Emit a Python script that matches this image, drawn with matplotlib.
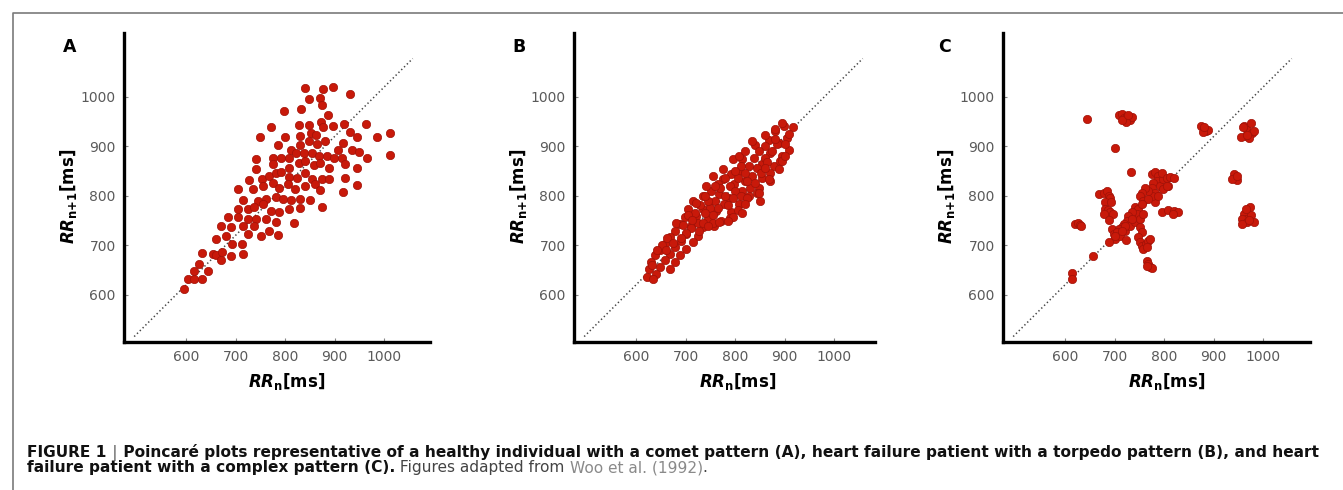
import matplotlib
matplotlib.use('Agg')
import matplotlib.pyplot as plt
from matplotlib.lines import Line2D

# ---- data (ms) ----
a_x = [841, 876, 897, 931, 848, 871, 875, 833, 798, 886, 771, 829, 848, 873, 897, 919, 964,
       750, 799, 831, 853, 863, 876, 931, 945, 986, 1012, 785, 811, 831, 848, 865, 881, 907,
       917, 935, 950, 966, 1012, 741, 775, 791, 808, 823, 838, 855, 868, 885, 898, 915, 921,
       945, 741, 775, 808, 828, 841, 858, 871, 888, 728, 753, 768, 781, 791, 808, 825, 841,
       855, 875, 888, 921, 945, 705, 735, 755, 775, 788, 805, 821, 841, 861, 871, 918, 715,
       745, 761, 781, 795, 811, 831, 851, 875, 705, 725, 738, 755, 771, 788, 808, 831, 685,
       705, 725, 741, 761, 781, 818, 671, 691, 715, 738, 768, 785, 661, 681, 725, 751,
       595, 603, 616, 633, 616, 626, 645, 633, 655, 660, 671, 673, 691, 715, 693, 713]
a_y = [1018, 1015, 1019, 1006, 995, 997, 983, 975, 970, 963, 938, 943, 943, 949, 940, 945, 945,
       918, 918, 921, 926, 923, 939, 928, 918, 918, 926, 902, 892, 903, 910, 905, 910, 892,
       906, 893, 888, 876, 881, 873, 876, 876, 876, 886, 886, 886, 880, 880, 876, 876, 863,
       856, 854, 863, 856, 866, 870, 861, 866, 856, 831, 833, 840, 846, 848, 838, 836, 846,
       833, 833, 833, 836, 821, 813, 813, 819, 826, 816, 823, 813, 819, 823, 811, 807, 791,
       789, 793, 798, 793, 791, 793, 791, 776, 773, 773, 776, 783, 769, 767, 773, 774, 757,
       756, 753, 753, 753, 747, 745, 738, 736, 738, 739, 729, 720, 712, 719, 722, 719,
       612, 632, 632, 631, 647, 662, 647, 684, 682, 679, 669, 686, 678, 682, 702, 702]

b_x = [918, 898, 881, 905, 868, 888, 908, 861, 841, 848, 871, 895, 838, 815, 828, 855, 878,
       808, 791, 835, 855, 821, 775, 765, 798, 848, 815, 751, 735, 768, 788, 828, 715, 748,
       778, 808, 735, 705, 761, 791, 721, 698, 745, 771, 688, 711, 735, 758, 678, 701, 725,
       668, 691, 715, 658, 678, 701, 648, 668, 688, 638, 658, 678, 631, 648, 668, 625, 641,
       621, 635,
       780, 790, 800, 760, 770, 805, 820, 830, 845, 860, 750, 740, 725, 710, 700, 690, 720,
       730, 745, 755, 765, 785, 795, 812, 825, 840, 852, 865, 875, 885, 890, 870, 880, 860,
       812, 800, 780, 760, 740, 722, 705, 680, 662, 652, 642, 632, 660, 675, 695, 712, 735,
       755, 790, 805, 825, 845, 870, 895, 900, 910,
       741, 755, 775, 795, 808, 821, 835, 861, 881, 895, 768, 795, 821, 848, 868, 888, 901,
       728, 745, 785, 815, 850]
b_y = [939, 940, 930, 916, 913, 906, 893, 900, 903, 890, 886, 880, 876, 873, 860, 863, 860,
       850, 843, 840, 836, 829, 833, 823, 823, 816, 809, 809, 799, 803, 796, 799, 789, 786,
       783, 783, 773, 773, 769, 766, 759, 756, 753, 749, 743, 739, 736, 739, 729, 722, 719,
       716, 709, 706, 702, 696, 692, 689, 682, 679, 679, 669, 666, 666, 656, 652, 652, 642,
       635, 632,
       800, 820, 810, 790, 815, 835, 845, 815, 855, 875, 775, 765, 745, 735, 725, 715, 765,
       780, 790, 760, 775, 780, 795, 800, 830, 825, 845, 868, 890, 905, 870, 845, 915, 855,
       860, 850, 835, 820, 800, 785, 760, 745, 715, 700, 690, 660, 690, 705, 740, 750, 745,
       745, 755, 770, 795, 805, 830, 870, 905, 925,
       819, 839, 853, 873, 880, 890, 910, 923, 934, 947, 746, 756, 783, 806, 833, 853, 880,
       728, 738, 748, 765, 790]

c_x = [613, 613, 645, 620, 625, 630, 633, 657, 701, 733, 709, 715, 720, 725, 731, 736, 723,
       715, 728, 875, 880, 885, 889, 878, 881, 961, 968, 975, 978, 965, 956, 971, 981, 960,
       968, 941, 945, 947, 938, 948, 973, 961, 965, 957, 968, 976, 981, 958, 971, 965, 669,
       678, 685, 688, 691, 680, 681, 687, 691, 696, 678, 688, 693, 695, 698, 701, 689, 775,
       781, 788, 785, 778, 791, 798, 795, 775, 781, 805, 811, 821, 781, 775, 768, 761, 755,
       751, 758, 768, 788, 808, 798, 805, 795, 808, 821, 828, 818, 741, 748, 755, 745, 735,
       728, 725, 718, 715, 708, 705, 721, 731, 741, 751, 758, 735, 721, 711, 701, 751, 755,
       748, 751, 755, 763, 768, 771, 758, 765, 723, 715, 765, 768, 771, 775, 766]
c_y = [644, 632, 955, 742, 745, 741, 738, 677, 896, 848, 963, 965, 957, 960, 953, 958, 948,
       953, 963, 940, 934, 930, 932, 928, 939, 940, 933, 947, 927, 920, 918, 916, 930, 939,
       923, 843, 836, 831, 833, 839, 776, 763, 753, 753, 746, 760, 746, 743, 750, 773, 804,
       806, 809, 799, 796, 787, 773, 770, 766, 763, 763, 751, 787, 732, 722, 712, 706, 843,
       848, 840, 829, 826, 819, 833, 846, 816, 806, 836, 838, 836, 786, 799, 809, 816, 806,
       799, 789, 793, 799, 819, 813, 819, 767, 770, 768, 767, 763, 776, 773, 783, 763, 766,
       759, 749, 742, 736, 732, 726, 729, 739, 746, 753, 763, 753, 739, 719, 719, 736, 726,
       716, 706, 699, 702, 709, 712, 692, 696, 710, 729, 667, 662, 656, 654, 658]

diag_x = [495, 1058]
diag_y = [515, 1077]

ticks = [600, 700, 800, 900, 1000]
letters = ['A', 'B', 'C']

# ---- fonts ----
plt.rcParams['font.family'] = ['DejaVu Sans']
plt.rcParams['mathtext.fontset'] = 'custom'
plt.rcParams['mathtext.rm'] = 'DejaVu Sans:bold'
plt.rcParams['mathtext.it'] = 'DejaVu Sans:italic:bold'
plt.rcParams['mathtext.bf'] = 'DejaVu Sans:bold'

W, H = 1343, 490
fig = plt.figure(figsize=(W / 100, H / 100), dpi=100)


def rect(left, top, right, bottom):
    return [left / W, 1 - bottom / H, (right - left) / W, (bottom - top) / H]


# px per ms, lower limits
k = 0.4947
x_lo, y_lo = 474.4, 504
top_px, bot_px = 33.3, 342

panels = [(a_x, a_y, 124, 430, 63, 0.533),
          (b_x, b_y, 574, 875, 512, 0.545),
          (c_x, c_y, 1003, 1310, 938, 0.533)]

for (xs, ys, left, right, lx, xlab), letter in zip(panels, letters):
    ax = fig.add_axes(rect(left, top_px, right, bot_px))
    ax.set_xlim(x_lo, x_lo + (right - left) / k)
    ax.set_ylim(y_lo, y_lo + (bot_px - top_px) / k)

    ax.plot(diag_x, diag_y, linestyle=(0, (0.9, 1.7)), color='#444444', lw=1.1, zorder=2)
    ax.scatter(xs, ys, s=36, color='#c8190a', edgecolors='#a01208',
               linewidths=0.5, zorder=3, clip_on=False)

    for s in ['top', 'right']:
        ax.spines[s].set_visible(False)
    for s in ['left', 'bottom']:
        ax.spines[s].set_linewidth(2.4)
        ax.spines[s].set_color('black')
        ax.spines[s].set_capstyle('projecting')

    ax.set_xticks(ticks)
    ax.set_yticks(ticks)
    ax.tick_params(direction='in', length=3, width=0.8, color='#888888',
                   labelsize=10, labelcolor='#5a5a5a')
    ax.tick_params(axis='x', pad=6)
    ax.tick_params(axis='y', pad=6)

    ax.text(xlab, -0.145, r'$\mathit{RR}_{\mathrm{n}}\mathrm{[ms]}$', transform=ax.transAxes,
            ha='center', va='baseline', fontsize=12)
    ax.text(-0.183, 0.471, r'$\mathit{RR}_{\mathrm{n{+}1}}\mathrm{[ms]}$', transform=ax.transAxes,
            ha='center', va='center', rotation=90, fontsize=12)

    fig.text(lx / W, 1 - 51.7 / H, letter, fontsize=12.5, fontweight='bold',
             ha='left', va='baseline')

# frame around the figure
fig.add_artist(Line2D([13 / W, 13 / W, 1], [0, 1 - 12.7 / H, 1 - 12.7 / H],
                      transform=fig.transFigure, color='#7a7a7a', lw=1.2))

# caption
renderer = fig.canvas.get_renderer()
line1 = [('FIGURE 1 ', dict(fontweight='bold', color='#111111')),
         ('|', dict(fontweight='bold', color='#888888')),
         (' Poincaré plots representative of a healthy individual with a comet pattern (A), '
          'heart failure patient with a torpedo pattern (B), and heart',
          dict(fontweight='bold', color='#111111'))]
line2 = [('failure patient with a complex pattern (C).', dict(fontweight='bold', color='#111111')),
         (' Figures adapted from ', dict(color='#444444')),
         ('Woo et al. (1992)', dict(color='#8a8a8a')),
         ('.', dict(color='#444444'))]


def runs(x, y, parts, size):
    x0 = x
    for txt, kw in parts:
        t = fig.text(x / W, 1 - y / H, txt, fontsize=size,
                     va='baseline', ha='left', **kw)
        x += t.get_window_extent(renderer).width
    return x - x0


# size chosen so that the first line spans the same width as in the picture
probe = fig.text(0, 0, ''.join(p[0] for p in line1), fontsize=10, fontweight='bold')
cap_size = 10 * 1293 / probe.get_window_extent(renderer).width
probe.remove()

runs(27, 457, line1, cap_size)
runs(27, 472, line2, cap_size)

fig.savefig('out.png', dpi=100)
